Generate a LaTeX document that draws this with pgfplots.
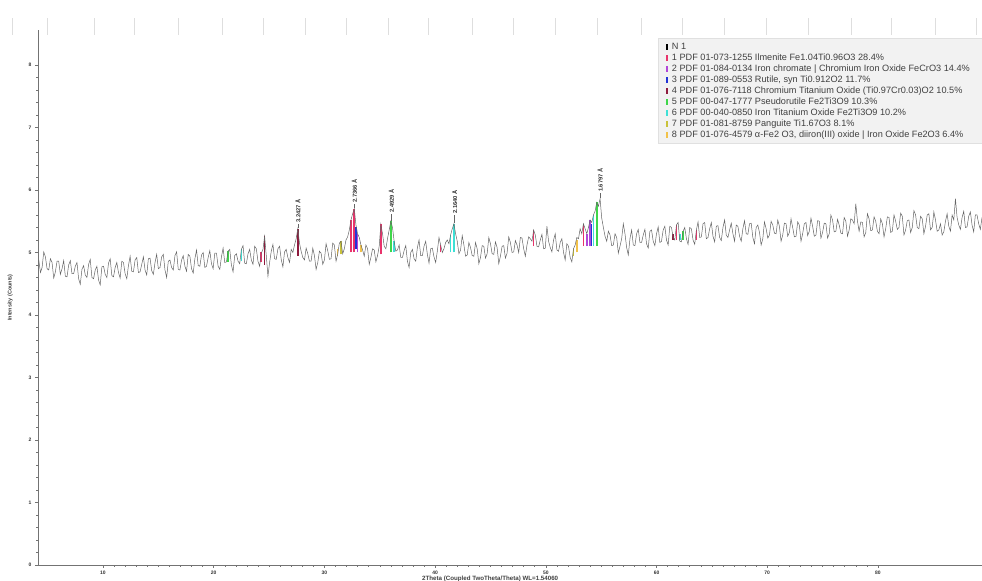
\documentclass[border=0pt]{standalone}
\usepackage{fontspec}
\setmainfont{Liberation Sans}
\usepackage{pgfplots}
\usepackage{pgfplotstable}
\pgfplotsset{compat=1.18}
\definecolor{pat}{HTML}{646464}
\definecolor{c1}{HTML}{E8336B}
\definecolor{c2}{HTML}{B146D8}
\definecolor{c3}{HTML}{2233D6}
\definecolor{c4}{HTML}{8E1B3E}
\definecolor{c5}{HTML}{3ED64A}
\definecolor{c6}{HTML}{3EE0D6}
\definecolor{c7}{HTML}{C9C23A}
\definecolor{c8}{HTML}{F2C24A}

\pgfplotstableread{
x y
4.2 4.88
4.35 4.68
4.5 4.76
4.65 5.01
4.8 4.93
4.95 4.74
5.1 4.72
5.25 4.90
5.4 4.84
5.55 4.59
5.7 4.69
5.85 4.86
6.0 4.86
6.15 4.65
6.3 4.74
6.45 4.87
6.6 4.62
6.75 4.61
6.9 4.80
7.05 4.87
7.2 4.66
7.35 4.66
7.5 4.78
7.65 4.84
7.8 4.58
7.95 4.49
8.1 4.73
8.25 4.79
8.4 4.64
8.55 4.60
8.7 4.81
8.85 4.89
9.0 4.60
9.15 4.58
9.3 4.72
9.45 4.78
9.6 4.56
9.75 4.48
9.9 4.77
10.05 4.78
10.2 4.65
10.35 4.60
10.5 4.83
10.65 4.90
10.8 4.63
10.95 4.61
11.1 4.76
11.25 4.84
11.4 4.68
11.55 4.59
11.7 4.86
11.85 4.84
12.0 4.66
12.15 4.58
12.3 4.79
12.45 4.94
12.6 4.70
12.75 4.69
12.9 4.88
13.05 4.92
13.2 4.68
13.35 4.69
13.5 4.81
13.65 4.93
13.8 4.72
13.95 4.64
14.1 4.90
14.25 4.91
14.4 4.71
14.55 4.65
14.7 4.84
14.85 4.97
15.0 4.74
15.15 4.76
15.3 4.93
15.45 4.97
15.6 4.72
15.75 4.60
15.9 4.86
16.05 4.88
16.2 4.76
16.35 4.72
16.5 4.95
16.65 5.01
16.8 4.73
16.95 4.72
17.1 4.88
17.25 4.95
17.4 4.78
17.55 4.70
17.7 4.97
17.85 4.94
18.0 4.74
18.15 4.67
18.3 4.90
18.45 5.04
18.6 4.79
18.75 4.78
18.9 4.96
19.05 5.00
19.2 4.76
19.35 4.78
19.5 4.92
19.65 5.03
19.8 4.82
19.95 4.74
20.1 4.99
20.25 4.99
20.4 4.78
20.55 4.73
20.7 4.93
20.85 5.07
21.0 4.84
21.15 4.85
21.3 5.02
21.45 5.05
21.6 4.80
21.75 4.69
21.9 4.95
22.05 4.98
22.2 4.86
22.35 4.82
22.5 5.05
22.65 5.11
22.8 4.83
22.95 4.82
23.1 4.98
23.25 5.05
23.4 4.88
23.55 4.81
23.7 5.10
23.85 5.06
24.0 4.86
24.15 4.78
24.3 4.99
24.45 5.05
24.6 5.26
24.75 4.95
24.9 4.62
25.05 4.84
25.2 5.02
25.35 5.13
25.5 4.90
25.65 4.89
25.8 5.06
25.95 5.10
26.1 4.89
26.25 4.77
26.4 5.01
26.55 5.05
26.7 4.92
26.85 4.84
27.0 5.05
27.15 5.00
27.3 5.12
27.45 5.22
27.6 5.38
27.75 5.15
27.9 5.02
28.05 4.92
28.2 4.88
28.35 5.07
28.5 4.98
28.65 4.86
28.8 4.86
28.95 5.07
29.1 4.95
29.25 4.73
29.4 4.84
29.55 5.02
29.7 4.99
29.85 4.81
30.0 4.88
30.15 5.14
30.3 5.03
30.45 4.89
30.6 4.90
30.75 5.15
30.9 5.12
31.05 4.86
31.2 4.97
31.35 5.15
31.5 5.18
31.65 4.98
31.8 5.06
31.95 5.20
32.1 5.25
32.25 5.36
32.4 5.52
32.55 5.62
32.7 5.70
32.85 5.44
33.0 5.30
33.15 5.24
33.3 5.12
33.45 5.04
33.6 4.94
33.75 5.12
33.9 5.06
34.05 4.81
34.2 4.92
34.35 5.06
34.5 5.04
34.65 4.85
34.8 4.95
34.95 5.10
35.1 5.45
35.25 5.30
35.4 5.10
35.55 5.06
35.7 5.22
35.85 5.36
36.0 5.50
36.15 5.40
36.3 5.18
36.45 5.02
36.6 5.04
36.75 5.12
36.9 4.92
37.05 4.92
37.2 5.03
37.35 5.11
37.5 4.86
37.65 4.76
37.8 5.00
37.95 5.05
38.1 4.90
38.25 4.86
38.4 5.08
38.55 5.20
38.7 4.95
38.85 4.95
39.0 5.10
39.15 5.18
39.3 4.97
39.45 4.83
39.6 5.06
39.75 5.07
39.9 4.93
40.05 4.84
40.2 5.02
40.35 5.24
40.5 5.12
40.65 5.00
40.8 5.06
40.95 5.16
41.1 5.20
41.25 5.14
41.4 5.28
41.55 5.38
41.7 5.46
41.85 5.30
42.0 5.18
42.15 4.98
42.3 5.04
42.45 5.27
42.6 5.12
42.75 4.94
42.9 4.96
43.05 5.16
43.2 5.08
43.35 4.95
43.5 4.94
43.65 5.16
43.8 5.06
43.95 4.82
44.1 4.92
44.25 5.11
44.4 5.10
44.55 4.91
44.7 4.98
44.85 5.24
45.0 5.14
45.15 4.98
45.3 4.97
45.45 5.17
45.6 5.08
45.75 4.82
45.9 4.94
46.05 5.10
46.2 5.11
46.35 4.91
46.5 4.99
46.65 5.25
46.8 5.16
46.95 5.00
47.1 5.01
47.25 5.19
47.4 5.12
47.55 5.00
47.7 5.24
47.85 5.23
48.0 5.06
48.15 4.94
48.3 5.12
48.45 5.25
48.6 5.22
48.75 5.18
48.9 5.36
49.05 5.28
49.2 5.10
49.35 5.09
49.5 5.20
49.65 5.29
49.8 5.06
49.95 5.07
50.1 5.42
50.25 5.18
50.4 5.08
50.55 5.01
50.7 5.20
50.85 5.30
51.0 5.04
51.15 5.02
51.3 5.16
51.45 5.22
51.6 5.00
51.75 4.88
51.9 5.14
52.05 5.10
52.2 4.92
52.35 4.85
52.5 5.06
52.65 5.12
52.8 5.24
52.95 5.22
53.1 5.38
53.25 5.30
53.4 5.46
53.55 5.38
53.7 5.30
53.85 5.40
54.0 5.52
54.15 5.48
54.3 5.60
54.45 5.66
54.6 5.80
54.75 5.74
54.9 5.86
55.05 5.55
55.2 5.40
55.35 5.26
55.5 5.18
55.65 5.34
55.8 5.28
55.95 5.11
56.1 5.12
56.25 5.30
56.4 5.24
56.55 4.99
56.7 5.10
56.85 5.22
57.0 5.46
57.15 5.30
57.3 5.08
57.45 4.96
57.6 5.22
57.75 5.36
57.9 5.12
58.05 5.11
58.2 5.30
58.35 5.37
58.5 5.16
58.65 5.16
58.8 5.28
58.95 5.37
59.1 5.14
59.25 5.07
59.4 5.34
59.55 5.36
59.7 5.18
59.85 5.11
60.0 5.30
60.15 5.41
60.3 5.16
60.45 5.18
60.6 5.36
60.75 5.42
60.9 5.20
61.05 5.12
61.2 5.42
61.35 5.40
61.5 5.24
61.65 5.20
61.8 5.44
61.95 5.48
62.1 5.18
62.25 5.17
62.4 5.34
62.55 5.40
62.7 5.22
62.85 5.13
63.0 5.40
63.15 5.38
63.3 5.20
63.45 5.13
63.6 5.36
63.75 5.49
63.9 5.24
64.05 5.25
64.2 5.46
64.35 5.48
64.5 5.22
64.65 5.24
64.8 5.38
64.95 5.48
65.1 5.26
65.25 5.17
65.4 5.42
65.55 5.43
65.7 5.24
65.85 5.19
66.0 5.40
66.15 5.52
66.3 5.28
66.45 5.24
66.6 5.36
66.75 5.47
66.9 5.30
67.05 5.18
67.2 5.44
67.35 5.42
67.5 5.26
67.65 5.18
67.8 5.38
67.95 5.51
68.1 5.30
68.25 5.29
68.4 5.46
68.55 5.47
68.7 5.24
68.85 5.14
69.0 5.40
69.15 5.44
69.3 5.32
69.45 5.12
69.6 5.22
69.75 5.49
69.9 5.38
70.05 5.23
70.2 5.28
70.35 5.50
70.5 5.44
70.65 5.31
70.8 5.30
70.95 5.52
71.1 5.42
71.25 5.18
71.4 5.28
71.55 5.47
71.7 5.46
71.85 5.26
72.0 5.32
72.15 5.54
72.3 5.40
72.45 5.25
72.6 5.26
72.75 5.49
72.9 5.44
73.05 5.18
73.2 5.30
73.35 5.46
73.5 5.48
73.65 5.27
73.8 5.34
73.95 5.55
74.1 5.42
74.25 5.26
74.4 5.28
74.55 5.51
74.7 5.50
74.85 5.23
75.0 5.32
75.15 5.47
75.3 5.46
75.45 5.23
75.6 5.30
75.75 5.60
75.9 5.52
76.05 5.33
76.2 5.34
76.35 5.53
76.5 5.44
76.65 5.31
76.8 5.30
76.95 5.56
77.1 5.50
77.25 5.26
77.4 5.36
77.55 5.54
77.7 5.52
77.85 5.46
78.0 5.78
78.15 5.50
78.3 5.34
78.45 5.49
78.6 5.48
78.75 5.25
78.9 5.32
79.05 5.62
79.2 5.54
79.35 5.35
79.5 5.36
79.65 5.57
79.8 5.50
79.95 5.34
80.1 5.30
80.25 5.54
80.4 5.46
80.55 5.25
80.7 5.38
80.85 5.57
81.0 5.56
81.15 5.32
81.3 5.34
81.45 5.60
81.6 5.50
81.75 5.37
81.9 5.40
82.05 5.63
82.2 5.58
82.35 5.28
82.5 5.36
82.65 5.51
82.8 5.52
82.95 5.32
83.1 5.40
83.25 5.67
83.4 5.60
83.55 5.40
83.7 5.38
83.85 5.58
84.0 5.54
84.15 5.30
84.3 5.42
84.45 5.60
84.6 5.62
84.75 5.36
84.9 5.40
85.05 5.65
85.2 5.52
85.35 5.34
85.5 5.36
85.65 5.46
85.8 5.28
85.95 5.33
86.1 5.50
86.25 5.62
86.4 5.42
86.55 5.34
86.7 5.60
86.85 5.52
87.0 5.86
87.15 5.56
87.3 5.44
87.45 5.37
87.6 5.56
87.75 5.66
87.9 5.40
88.05 5.41
88.2 5.58
88.35 5.65
88.5 5.44
88.65 5.33
88.8 5.60
88.95 5.60
89.1 5.46
89.25 5.37
89.4 5.56
}\pattern

\begin{document}
\begin{tikzpicture}
\useasboundingbox (0bp,0bp) rectangle (982bp,581bp);
% top strip of faint tick marks
\begin{axis}[at={(0bp,546bp)}, anchor=south west, scale only axis,
  width=982bp, height=17bp, xmin=0, xmax=982, ymin=0, ymax=1,
  hide axis]
\addplot[ycomb, draw=black!13, line width=0.8bp, mark=none] coordinates {
(12,1) (47,1) (94,1) (134,1) (178,1) (222,1) (263,1) (305,1) (346,1) (388,1) (428,1) (472,1)
(513,1) (555,1) (597,1) (641,1) (682,1) (724,1) (766,1) (808,1) (851,1) (891,1) (935,1) (976,1)};
\end{axis}

\begin{axis}[at={(38bp,16bp)}, anchor=south west, scale only axis,
  width=944bp, height=535bp,
  xmin=4.13, xmax=89.4, ymin=0, ymax=8.56,
  axis x line*=bottom, axis y line*=left,
  axis line style={draw=black!55, line width=0.6bp, -},
  xtick={10,20,...,80}, ytick={0,1,...,8},
  minor x tick num=9, minor y tick num=4,
  tick align=outside, major tick length=3bp, minor tick length=1.8bp,
  tick style={draw=black!55, line width=0.5bp},
  /pgf/number format/assume math mode=true,
  ticklabel style={font=\bfseries\fontsize{5}{6}\selectfont, text=black!80},
  xlabel={2Theta (Coupled TwoTheta/Theta) WL=1.54060},
  ylabel={Intensity (Counts)},
  label style={font=\bfseries\fontsize{5.5}{6}\selectfont, text=black!75},
  xlabel style={at={(axis description cs:0.479,0)}, anchor=north, inner sep=0pt, yshift=-10.5bp, font=\bfseries\fontsize{6.2}{6.5}\selectfont},
  ylabel style={at={(axis description cs:0,0.5)}, anchor=south, inner sep=0pt, yshift=25bp},
  unbounded coords=jump, clip=false,
  legend image code/.code={\draw[#1, line width=1.6bp] (0bp,-3.2bp) -- (0bp,3.2bp);},
  legend style={at={(1,0.985)}, anchor=north east, fill=black!5, draw=black!12,
    font=\fontsize{9.2}{10}\selectfont, text=black!75, row sep=0pt,
    inner xsep=8bp, inner ysep=3bp,
    nodes={text height=6.6bp, text depth=2bp, inner ysep=1.2bp, inner xsep=4bp},
    cells={anchor=west}},
  legend cell align=left]
% phase marks coloured under the pattern
\addplot[c4, line width=1.6bp, forget plot] coordinates {(24.6,4.80) (24.6,5.26) (24.6,nan) (27.6,4.95) (27.6,5.38) (27.6,nan) (61.5,5.2) (61.5,5.3)};
\addplot[c1, line width=1.6bp, forget plot] coordinates {(24.3,4.85) (24.3,5.0) (24.3,nan) (32.4,5.0) (32.4,5.52) (32.4,nan) (32.7,5.0) (32.7,5.70) (32.7,nan) (35.1,4.97) (35.1,5.45) (35.1,nan) (40.5,5.0) (40.5,5.12) (40.5,nan) (48.9,5.1) (48.9,5.36) (48.9,nan) (53.4,5.1) (53.4,5.46) (53.4,nan) (61.8,5.2) (61.8,5.44) (61.8,nan) (63.6,5.2) (63.6,5.36)};
\addplot[c2, line width=1.6bp, forget plot] coordinates {(33.0,5.0) (33.0,5.30) (33.0,nan) (53.7,5.1) (53.7,5.30) (53.7,nan) (54.0,5.1) (54.0,5.52)};
\addplot[c3, line width=1.2bp, forget plot] coordinates {(32.85,5.05) (32.85,5.40) (32.85,nan) (54.15,5.1) (54.15,5.45)};
\addplot[c5, line width=1.6bp, forget plot] coordinates {(21.3,4.85) (21.3,5.02) (21.3,nan) (36.0,5.0) (36.0,5.50) (36.0,nan) (54.6,5.1) (54.6,5.80) (54.6,nan) (62.4,5.2) (62.4,5.34)};
\addplot[c6, line width=1.6bp, forget plot] coordinates {(22.5,4.86) (22.5,5.05) (22.5,nan) (36.3,5.0) (36.3,5.18) (36.3,nan) (41.4,5.0) (41.4,5.28) (41.4,nan) (41.7,5.0) (41.7,5.46) (41.7,nan) (54.3,5.1) (54.3,5.60) (54.3,nan) (62.1,5.2) (62.1,5.3)};
\addplot[c7, line width=1.4bp, forget plot] coordinates {(31.5,4.97) (31.5,5.18) (31.5,nan) (52.5,4.95) (52.5,5.06)};
\addplot[c8, line width=1.4bp, forget plot] coordinates {(31.2,4.95) (31.2,5.05) (31.2,nan) (33.3,5.0) (33.3,5.12) (33.3,nan) (52.8,5.0) (52.8,5.2)};
% measured pattern
\addplot[pat, line width=0.5bp, forget plot] table[x=x, y=y] {\pattern};
% d-spacing labels
\draw[pat, line width=0.4bp] (axis cs:27.6,5.39) -- (axis cs:27.6,5.46);
\node[rotate=90, anchor=west, inner sep=1bp, font=\bfseries\fontsize{5.8}{6}\selectfont, text=black!80] at (axis cs:27.6,5.46) {3.2427 Å};
\draw[pat, line width=0.4bp] (axis cs:32.7,5.71) -- (axis cs:32.7,5.78);
\node[rotate=90, anchor=west, inner sep=1bp, font=\bfseries\fontsize{5.8}{6}\selectfont, text=black!80] at (axis cs:32.7,5.78) {2.7366 Å};
\draw[pat, line width=0.4bp] (axis cs:36.05,5.51) -- (axis cs:36.05,5.62);
\node[rotate=90, anchor=west, inner sep=1bp, font=\bfseries\fontsize{5.8}{6}\selectfont, text=black!80] at (axis cs:36.05,5.62) {2.4929 Å};
\draw[pat, line width=0.4bp] (axis cs:41.75,5.47) -- (axis cs:41.75,5.60);
\node[rotate=90, anchor=west, inner sep=1bp, font=\bfseries\fontsize{5.8}{6}\selectfont, text=black!80] at (axis cs:41.75,5.60) {2.1640 Å};
\draw[pat, line width=0.4bp] (axis cs:54.9,5.87) -- (axis cs:54.9,5.95);
\node[rotate=90, anchor=west, inner sep=1bp, font=\bfseries\fontsize{5.8}{6}\selectfont, text=black!80] at (axis cs:54.9,5.95) {1.6797 Å};
% legend
\addlegendimage{black}
\addlegendentry{N 1}
\addlegendimage{c1}
\addlegendentry{1 PDF 01-073-1255 Ilmenite Fe1.04Ti0.96O3 28.4\%}
\addlegendimage{c2}
\addlegendentry{2 PDF 01-084-0134 Iron chromate | Chromium Iron Oxide FeCrO3 14.4\%}
\addlegendimage{c3}
\addlegendentry{3 PDF 01-089-0553 Rutile, syn Ti0.912O2 11.7\%}
\addlegendimage{c4}
\addlegendentry{4 PDF 01-076-7118 Chromium Titanium Oxide (Ti0.97Cr0.03)O2 10.5\%}
\addlegendimage{c5}
\addlegendentry{5 PDF 00-047-1777 Pseudorutile Fe2Ti3O9 10.3\%}
\addlegendimage{c6}
\addlegendentry{6 PDF 00-040-0850 Iron Titanium Oxide Fe2Ti3O9 10.2\%}
\addlegendimage{c7}
\addlegendentry{7 PDF 01-081-8759 Panguite Ti1.67O3 8.1\%}
\addlegendimage{c8}
\addlegendentry{8 PDF 01-076-4579 α-Fe2 O3, diiron(III) oxide | Iron Oxide Fe2O3 6.4\%}
\end{axis}
\end{tikzpicture}
\end{document}
